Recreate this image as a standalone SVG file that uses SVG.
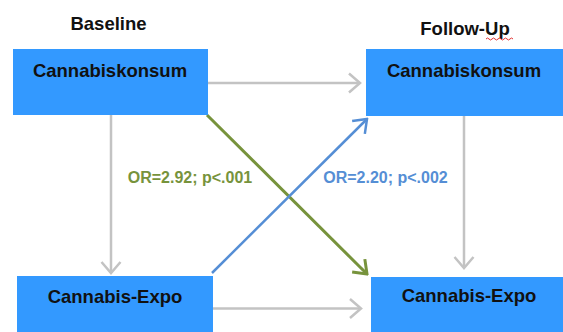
<svg xmlns="http://www.w3.org/2000/svg" width="563" height="332" viewBox="0 0 563 332">
  <style>
    .box { fill: #3399ff; }
    .nt { font-family: "Liberation Sans", Arial, sans-serif; font-weight: bold; font-size: 18.5px; fill: #111111; text-anchor: middle; }
    .hd { font-family: "Liberation Sans", Arial, sans-serif; font-weight: bold; font-size: 18.5px; fill: #111111; text-anchor: middle; }
    .lbl { font-family: "Liberation Sans", Arial, sans-serif; font-weight: bold; font-size: 16px; text-anchor: middle; }
    .gray { stroke: #c3c3c3; stroke-width: 2.5; fill: none; }
    .green { stroke: #77933c; stroke-width: 3; fill: none; }
    .blue { stroke: #558ed5; stroke-width: 2.5; fill: none; }
  </style>
  <defs>
    <marker id="ah-gray" markerUnits="userSpaceOnUse" viewBox="-13 -11 15 22" refX="0" refY="0" markerWidth="15" markerHeight="22" orient="auto">
      <path d="M-11,-9.5 L0,0 L-11,9.5" fill="none" stroke="#c3c3c3" stroke-width="2.5"/>
    </marker>
    <marker id="ah-green" markerUnits="userSpaceOnUse" viewBox="-13 -11 15 22" refX="0" refY="0" markerWidth="15" markerHeight="22" orient="auto">
      <path d="M-12,-9 L0,0 L-12,9" fill="none" stroke="#77933c" stroke-width="3"/>
    </marker>
    <marker id="ah-blue" markerUnits="userSpaceOnUse" viewBox="-13 -11 15 22" refX="0" refY="0" markerWidth="15" markerHeight="22" orient="auto">
      <path d="M-12,-9 L0,0 L-12,9" fill="none" stroke="#558ed5" stroke-width="2.5"/>
    </marker>
  </defs>

  <rect width="563" height="332" fill="#ffffff"/>

  <g id="headers">
    <text class="hd" x="108.5" y="30">Baseline</text>
    <text class="hd" x="465" y="35">Follow-Up</text>
    <path d="M486,39 q1.5,-2 3,0 t3,0 t3,0 t3,0 t3,0 t3,0 t3,0 t3,0 t3,0" fill="none" stroke="#e03030" stroke-width="1"/>
  </g>

  <g id="connectors">
    <line class="gray" x1="208" y1="83" x2="360" y2="83" marker-end="url(#ah-gray)"/>
    <line class="gray" x1="213" y1="308.5" x2="361" y2="308.5" marker-end="url(#ah-gray)"/>
    <line class="gray" x1="111" y1="115" x2="111" y2="273" marker-end="url(#ah-gray)"/>
    <line class="gray" x1="464" y1="116" x2="464" y2="268" marker-end="url(#ah-gray)"/>
    <line class="green" x1="207" y1="115" x2="367" y2="274" marker-end="url(#ah-green)"/>
    <line class="blue" x1="212" y1="273" x2="367" y2="119" marker-end="url(#ah-blue)"/>
    <text class="lbl" x="190" y="183" fill="#77933c">OR=2.92; p&lt;.001</text>
    <text class="lbl" x="385.5" y="183" fill="#558ed5">OR=2.20; p&lt;.002</text>
  </g>

  <g id="baseline-konsum">
    <rect class="box" x="13" y="49" width="195" height="66"/>
    <text class="nt" x="110" y="77">Cannabiskonsum</text>
  </g>
  <g id="followup-konsum">
    <rect class="box" x="366" y="49" width="197" height="67"/>
    <text class="nt" x="464" y="77">Cannabiskonsum</text>
  </g>
  <g id="baseline-expo">
    <rect class="box" x="17" y="276" width="196" height="56"/>
    <text class="nt" x="115" y="303">Cannabis-Expo</text>
  </g>
  <g id="followup-expo">
    <rect class="box" x="371" y="277" width="192" height="55"/>
    <text class="nt" x="469" y="302">Cannabis-Expo</text>
  </g>
</svg>
